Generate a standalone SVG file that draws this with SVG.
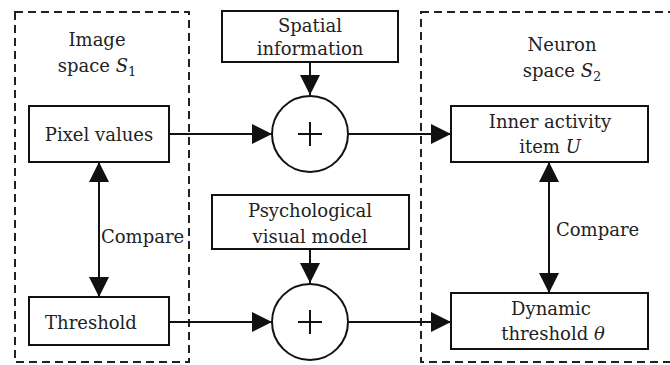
<svg xmlns="http://www.w3.org/2000/svg" width="670" height="365" viewBox="0 0 670 365">
<style>
text{font-family:"DejaVu Serif","Liberation Serif",serif;font-size:18px;fill:#222;text-anchor:middle}
.box{fill:#fff;stroke:#111;stroke-width:2}
.dash{fill:none;stroke:#222;stroke-width:2;stroke-dasharray:8 5}
.sum{fill:#fff;stroke:#111;stroke-width:2}
.plus{stroke:#111;stroke-width:2;fill:none}
.conn path{fill:none;stroke:#111;stroke-width:2}
.it{font-style:italic}
.sub{font-size:13px}
</style>
<defs>
<marker id="ah" markerUnits="userSpaceOnUse" markerWidth="20" markerHeight="20" refX="20" refY="10" orient="auto-start-reverse" viewBox="0 0 20 20">
<path d="M0,0 L20,10 L0,20 z" fill="#111"/>
</marker>
</defs>
<g id="image-space">
<rect class="dash" x="15" y="12" width="174" height="350"/>
<text x="97" y="46">Image</text>
<text x="97" y="72">space <tspan class="it">S</tspan><tspan class="sub" dy="4">1</tspan></text>
</g>
<g id="neuron-space">
<rect class="dash" x="421" y="12" width="262" height="350"/>
<text x="562" y="51">Neuron</text>
<text x="562" y="77">space <tspan class="it">S</tspan><tspan class="sub" dy="4">2</tspan></text>
</g>
<g id="conn" class="conn">
<path d="M310,62 L310,95" marker-end="url(#ah)"/>
<path d="M169,134 L272,134" marker-end="url(#ah)"/>
<path d="M349,134 L451,134" marker-end="url(#ah)"/>
<path d="M99,162 L99,297" marker-start="url(#ah)" marker-end="url(#ah)"/>
<path d="M310,249 L310,283" marker-end="url(#ah)"/>
<path d="M169,322 L272,322" marker-end="url(#ah)"/>
<path d="M349,322 L451,322" marker-end="url(#ah)"/>
<path d="M549,162 L549,293" marker-start="url(#ah)" marker-end="url(#ah)"/>
<text x="101" y="243" style="text-anchor:start">Compare</text>
<text x="556" y="236" style="text-anchor:start">Compare</text>
</g>
<g id="spatial">
<rect class="box" x="222" y="11" width="176" height="51"/>
<text x="310" y="32">Spatial</text>
<text x="310" y="55">information</text>
</g>
<g id="sum1">
<circle class="sum" cx="310" cy="134" r="38"/>
<path class="plus" d="M298,134 H322 M310,122 V146"/>
</g>
<g id="pixel">
<rect class="box" x="29" y="106" width="140" height="56"/>
<text x="99" y="141">Pixel values</text>
</g>
<g id="inner">
<rect class="box" x="451" y="106" width="197" height="56"/>
<text x="550" y="128">Inner activity</text>
<text x="550" y="153">item <tspan class="it">U</tspan></text>
</g>
<g id="psych">
<rect class="box" x="212" y="195" width="197" height="54"/>
<text x="310" y="217">Psychological</text>
<text x="310" y="243">visual model</text>
</g>
<g id="sum2">
<circle class="sum" cx="310" cy="322" r="38"/>
<path class="plus" d="M298,322 H322 M310,310 V334"/>
</g>
<g id="threshold">
<rect class="box" x="29" y="297" width="140" height="48"/>
<text x="91" y="329">Threshold</text>
</g>
<g id="dynamic">
<rect class="box" x="451" y="293" width="197" height="56"/>
<text x="551" y="315">Dynamic</text>
<text x="553" y="340">threshold <tspan class="it">θ</tspan></text>
</g>
</svg>
